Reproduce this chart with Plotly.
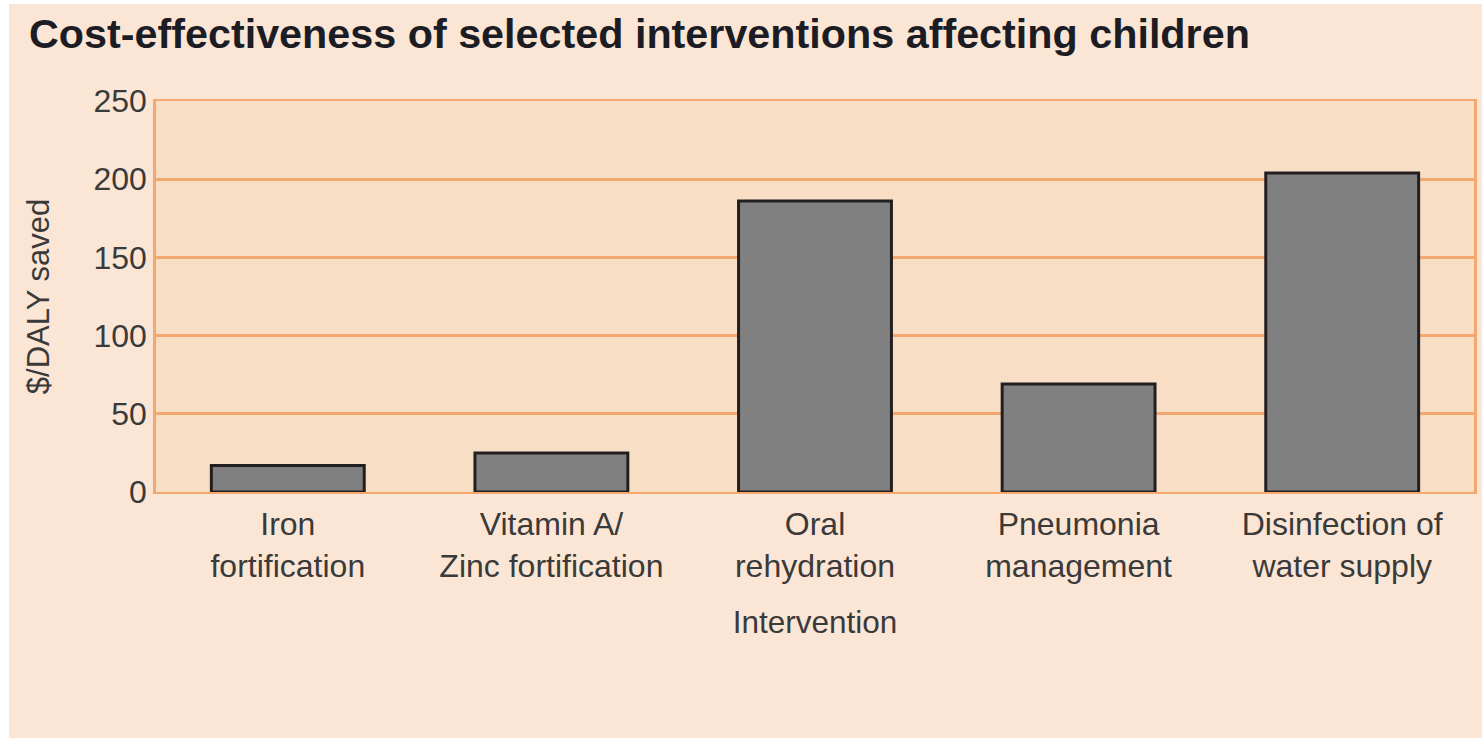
import plotly.graph_objects as go

# Interventions and their cost per DALY saved (US$)
interventions = [
    "Iron<br>fortification",
    "Vitamin A/<br>Zinc fortification",
    "Oral<br>rehydration",
    "Pneumonia<br>management",
    "Disinfection of<br>water supply",
]
cost_per_daly = [17, 25, 186, 69, 204]
y_ticks = [0, 50, 100, 150, 200, 250]

PAGE_BG = "#FBE6D5"
PLOT_BG = "#F9DEC6"
ORANGE = "#F2A86F"
TEXT = "#3a3a3a"
FONT = "Liberation Sans, Arial, sans-serif"

fig = go.Figure(
    go.Bar(
        x=interventions,
        y=cost_per_daly,
        width=0.58,
        marker=dict(color="#808080", line=dict(color="#231F20", width=3)),
        hoverinfo="x+y",
    )
)

W, H = 1482, 738
L, R, T, B = 156, 8, 101, 246
pw, ph = W - L - R, H - T - B

def px_x(px):
    return (px - L) / pw

def px_y(py):
    return (H - B - py) / ph

fig.update_layout(
    width=W,
    height=H,
    margin=dict(l=L, r=R, t=T, b=B, pad=0),
    paper_bgcolor=PAGE_BG,
    plot_bgcolor=PLOT_BG,
    showlegend=False,
    font=dict(family=FONT, size=32, color=TEXT),
    title=dict(
        text="<b>Cost-effectiveness of selected interventions affecting children</b>",
        font=dict(family=FONT, size=41.3, color="#1c1c24"),
        xref="container",
        yref="container",
        x=29 / W,
        xanchor="left",
        y=1 - 19 / H,
        yanchor="top",
    ),
    xaxis=dict(
        showline=True,
        mirror=True,
        linecolor=ORANGE,
        linewidth=2,
        showgrid=False,
        ticks="",
        ticklabelstandoff=3,
        tickfont=dict(size=32, color=TEXT),
        layer="below traces",
        title=dict(text="Intervention", font=dict(size=31.5, color=TEXT), standoff=28),
        automargin=False,
    ),
    yaxis=dict(
        range=[0, 250],
        tickvals=y_ticks,
        showline=True,
        mirror=True,
        linecolor=ORANGE,
        linewidth=2.5,
        showgrid=True,
        gridcolor=ORANGE,
        gridwidth=2.5,
        zeroline=False,
        ticks="",
        ticklabelstandoff=0,
        tickfont=dict(size=32, color=TEXT),
        layer="below traces",
        title=dict(text="$/DALY saved", font=dict(size=31, color=TEXT), standoff=35),
        automargin=False,
    ),
    shapes=[
        # thin white strips along the left and top edges of the page
        dict(type="rect", xref="paper", yref="paper",
             x0=px_x(-20), x1=px_x(9), y0=px_y(760), y1=px_y(-20),
             fillcolor="white", line=dict(width=0), layer="below"),
        dict(type="rect", xref="paper", yref="paper",
             x0=px_x(-20), x1=px_x(1500), y0=px_y(4), y1=px_y(-20),
             fillcolor="white", line=dict(width=0), layer="below"),
    ],
)

fig.write_html("out.html")
